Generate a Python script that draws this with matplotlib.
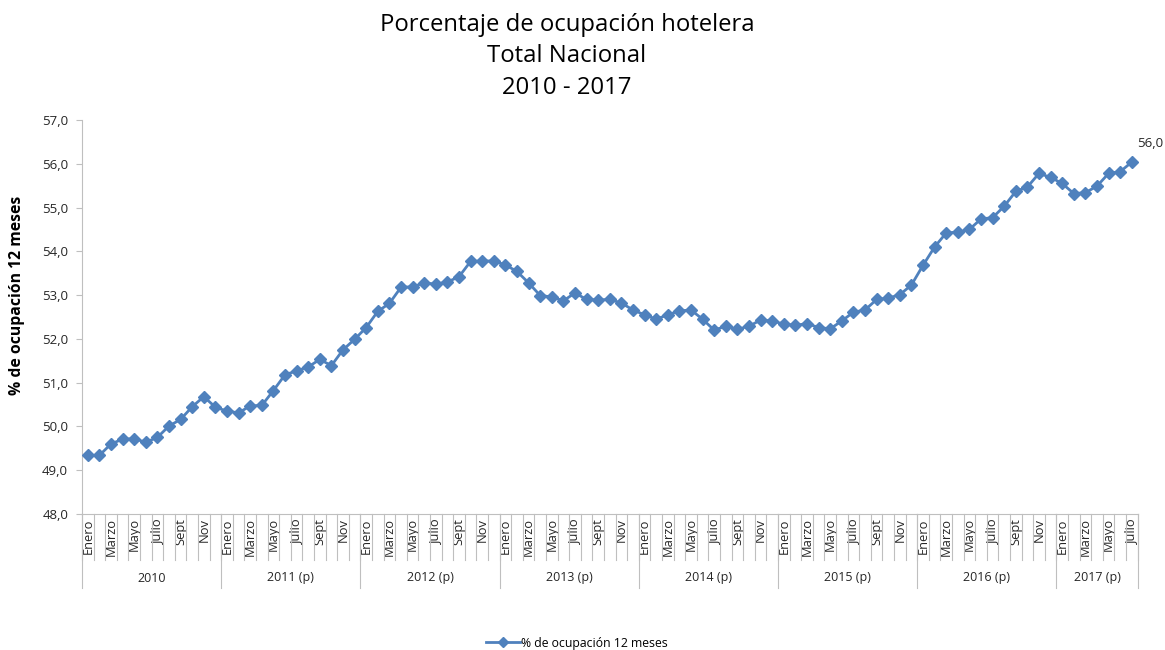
import matplotlib
matplotlib.use("Agg")
import matplotlib.pyplot as plt
import matplotlib.transforms as mtransforms
from matplotlib.lines import Line2D

plt.rcParams['font.family'] = ['Open Sans', 'DejaVu Sans']

years = ["2010", "2011 (p)", "2012 (p)", "2013 (p)", "2014 (p)", "2015 (p)", "2016 (p)", "2017 (p)"]
months_per_year = [12, 12, 12, 12, 12, 12, 12, 7]
month_names = ["Enero", "", "Marzo", "", "Mayo", "", "Julio", "", "Sept", "", "Nov", ""]

ocupacion = [
    # 2010
    49.34, 49.34, 49.60, 49.71, 49.72, 49.64, 49.75, 50.01, 50.16, 50.45, 50.68, 50.44,
    # 2011
    50.35, 50.31, 50.47, 50.48, 50.82, 51.18, 51.27, 51.36, 51.53, 51.39, 51.75, 51.99,
    # 2012
    52.26, 52.63, 52.81, 53.18, 53.19, 53.28, 53.25, 53.30, 53.42, 53.77, 53.78, 53.78,
    # 2013
    53.69, 53.54, 53.28, 52.99, 52.96, 52.87, 53.05, 52.90, 52.89, 52.90, 52.82, 52.66,
    # 2014
    52.55, 52.45, 52.55, 52.64, 52.66, 52.45, 52.20, 52.29, 52.22, 52.29, 52.43, 52.41,
    # 2015
    52.34, 52.31, 52.35, 52.26, 52.23, 52.41, 52.61, 52.66, 52.90, 52.93, 53.01, 53.23,
    # 2016
    53.68, 54.10, 54.42, 54.44, 54.50, 54.74, 54.77, 55.03, 55.37, 55.47, 55.78, 55.69,
    # 2017
    55.55, 55.32, 55.34, 55.49, 55.78, 55.82, 56.04,
]

series_label = "% de ocupación 12 meses"
color = "#4F81BD"
grey = "#BFBFBF"
text_col = "#262626"

fig = plt.figure(figsize=(11.65, 6.5), dpi=100)
ax = fig.add_axes([82 / 1165, 1 - 514 / 650, (1137.6 - 82) / 1165, (514 - 120) / 650])

x = list(range(len(ocupacion)))
ax.plot(x, ocupacion, color=color, lw=2.0, marker="D", markersize=6.5,
        markeredgecolor=color, markerfacecolor=color, zorder=3)

ax.set_xlim(-0.5, len(ocupacion) - 0.5)
ax.set_ylim(48, 57)
yt = [48 + i for i in range(10)]
ax.set_yticks(yt)
ax.set_yticklabels([f"{v:.1f}".replace(".", ",") for v in yt], fontsize=9.5, color=text_col)
ax.tick_params(axis="y", length=4, color=grey, pad=6)

for s in ["top", "right"]:
    ax.spines[s].set_visible(False)
ax.spines["left"].set_color(grey)
ax.spines["bottom"].set_color(grey)

# month labels
labels = []
for n in months_per_year:
    labels += month_names[:n]
ticks = [i for i, l in enumerate(labels) if l]
ax.set_xticks(ticks)
ax.set_xticklabels([labels[i] for i in ticks], rotation=90, fontsize=9.3,
                   color=text_col, va="top", ha="center")
ax.tick_params(axis="x", length=0, pad=3)

# category separators and year groups
trans = mtransforms.blended_transform_factory(ax.transData, ax.transAxes)
px = 1 / 394.0
for i in range(len(ocupacion) + 1):
    ax.plot([i - 0.5, i - 0.5], [0, -46 * px], color=grey, lw=0.8,
            transform=trans, clip_on=False)
start = 0
for yname, n in zip(years, months_per_year):
    ax.plot([start - 0.5, start - 0.5], [0, -74 * px], color=grey, lw=0.8,
            transform=trans, clip_on=False)
    ax.text(start - 0.5 + n / 2, -64 * px, yname, transform=trans, ha="center",
            va="center", fontsize=9, color=text_col)
    start += n
ax.plot([start - 0.5, start - 0.5], [0, -74 * px], color=grey, lw=0.8,
        transform=trans, clip_on=False)

# data label for last point
last = len(ocupacion) - 1
ax.annotate(f"{ocupacion[last]:.1f}".replace(".", ","), (last, ocupacion[last]),
            xytext=(4, 9), textcoords="offset points", fontsize=9.5,
            color=text_col, ha="left", va="bottom", annotation_clip=False)

ax.set_ylabel(series_label, fontsize=11.3, fontweight="bold", color="black")
ax.yaxis.set_label_coords(-(82 - 17) / 1055.6, (514 - 295) / 394)
ax.yaxis.label.set_va("center")

title_lines = ["Porcentaje de ocupación hotelera", "Total Nacional", "2010 - 2017"]
for line, yy in zip(title_lines, [25, 56, 88]):
    fig.text(567 / 1165, 1 - yy / 650, line, ha="center", va="center",
             fontsize=17.2, color="black")

handle = Line2D([], [], color=color, lw=2.0, marker="D", markersize=5,
                markerfacecolor=color, markeredgecolor=color)
fig.legend([handle], [series_label], loc="center", bbox_to_anchor=(577 / 1165, 1 - 643 / 650),
           frameon=False, fontsize=8.8, handlelength=2.8, handletextpad=0.1)

fig.savefig("out.png", dpi=100)
